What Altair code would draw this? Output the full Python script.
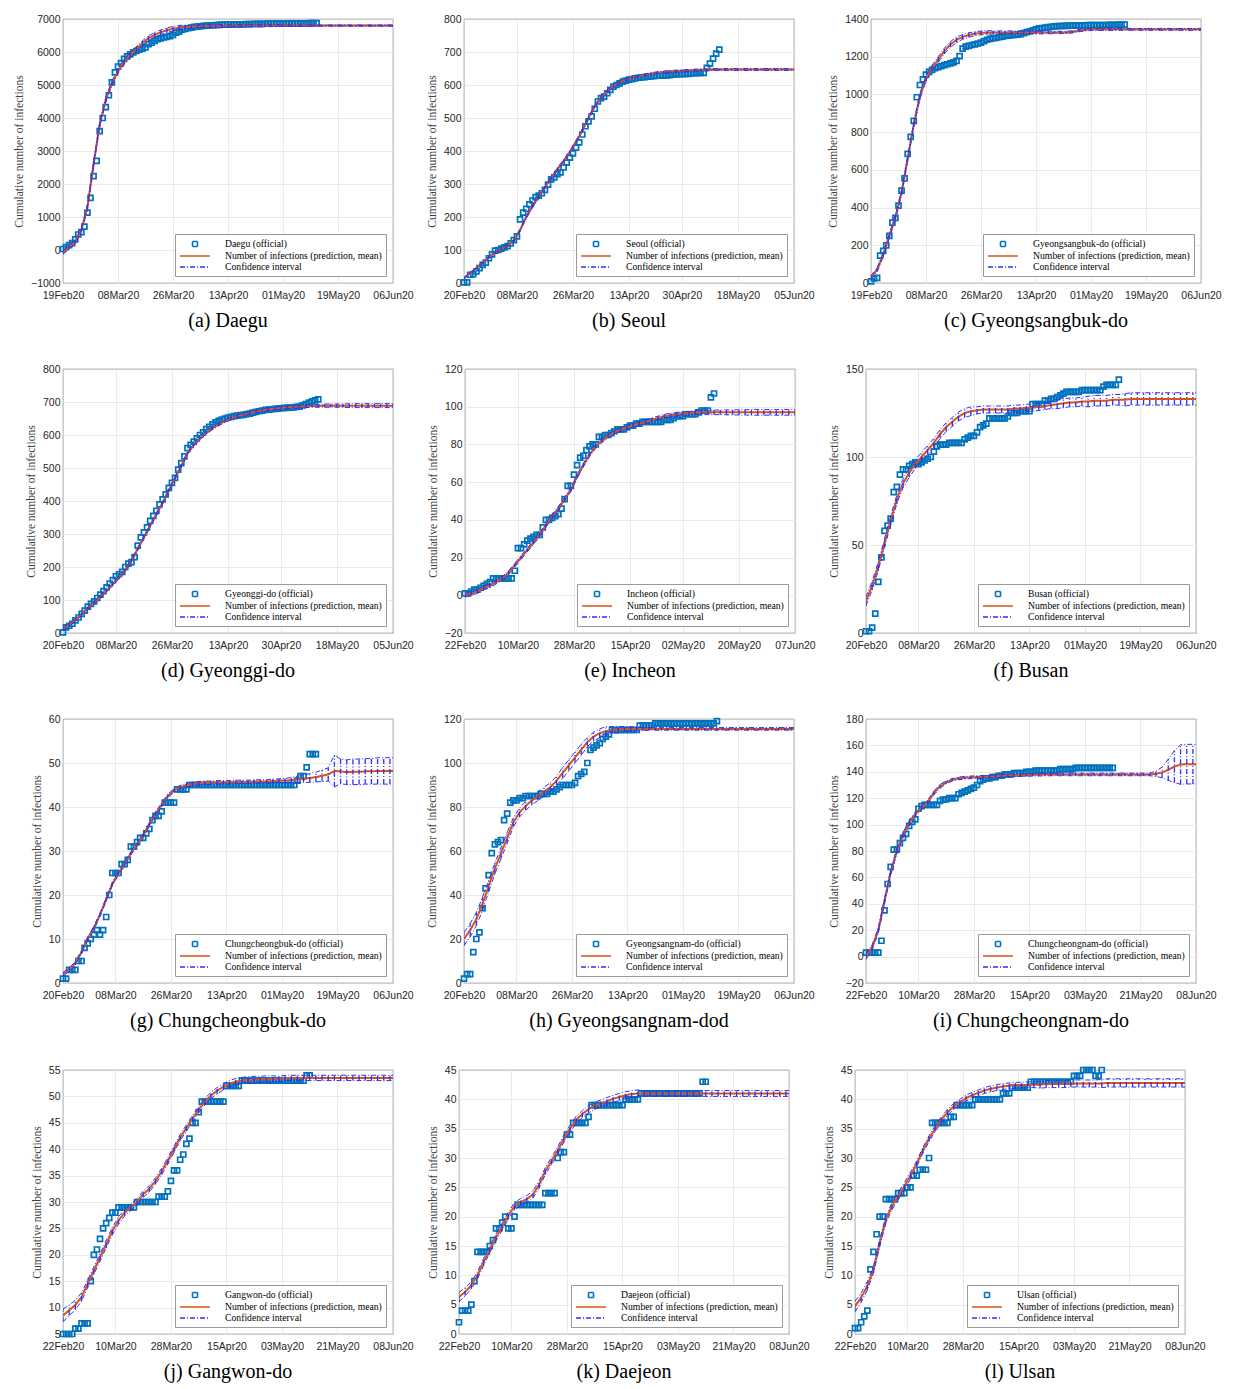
import altair as alt
import pandas as pd

# ------------------------------------------------------------------ data
PRED_LABEL = "Number of infections (prediction, mean)"
CI_LABEL = "Confidence interval"

# x tick labels (dates)
ticks_a = ["2020-02-19", "2020-03-08", "2020-03-26", "2020-04-13", "2020-05-01", "2020-05-19", "2020-06-06"]
ticks_b = ["2020-02-20", "2020-03-08", "2020-03-26", "2020-04-13", "2020-04-30", "2020-05-18", "2020-06-05"]
ticks_e = ["2020-02-22", "2020-03-10", "2020-03-28", "2020-04-15", "2020-05-02", "2020-05-20", "2020-06-07"]
ticks_f = ["2020-02-20", "2020-03-08", "2020-03-26", "2020-04-13", "2020-05-01", "2020-05-19", "2020-06-06"]
ticks_i = ["2020-02-22", "2020-03-10", "2020-03-28", "2020-04-15", "2020-05-03", "2020-05-21", "2020-06-08"]

# y tick labels
yt_a = [-1000, 0, 1000, 2000, 3000, 4000, 5000, 6000, 7000]
yt_b = [0, 100, 200, 300, 400, 500, 600, 700, 800]
yt_c = [0, 200, 400, 600, 800, 1000, 1200, 1400]
yt_e = [-20, 0, 20, 40, 60, 80, 100, 120]
yt_f = [0, 50, 100, 150]
yt_g = [0, 10, 20, 30, 40, 50, 60]
yt_h = [0, 20, 40, 60, 80, 100, 120]
yt_i = [-20, 0, 20, 40, 60, 80, 100, 120, 140, 160, 180]
yt_j = [5, 10, 15, 20, 25, 30, 35, 40, 45, 50, 55]
yt_k = [0, 5, 10, 15, 20, 25, 30, 35, 40, 45]

# official daily data, predictions (every 2 days), CI half-widths (every 2 days)
daegu_off = [30, 90, 150, 210, 320, 470, 540, 710, 1130, 1580,
             2240, 2700, 3600, 4000, 4330, 4690, 5080, 5380, 5560, 5660,
             5790, 5870, 5930, 5990, 6030, 6070, 6100, 6140, 6240, 6280,
             6340, 6390, 6410, 6440, 6460, 6480, 6520, 6590, 6620, 6680,
             6700, 6720, 6735, 6760, 6770, 6780, 6790, 6800, 6807, 6810,
             6816, 6825, 6830, 6832, 6834, 6835, 6836, 6838, 6839, 6840,
             6842, 6845, 6849, 6852, 6852, 6855, 6856, 6857, 6858, 6859,
             6860, 6861, 6861, 6862, 6864, 6865, 6865, 6866, 6868, 6870,
             6871, 6872, 6873, 6874]
daegu_pred = [-80, 80, 250, 600, 1300, 2600, 3800, 4550, 5050, 5420,
              5700, 5910, 6090, 6270, 6420, 6520, 6600, 6660, 6705, 6735,
              6755, 6768, 6776, 6782, 6786, 6789, 6791, 6793, 6794, 6795,
              6796, 6797, 6798, 6798, 6799, 6799, 6800, 6800, 6800, 6800,
              6800, 6800, 6800, 6800, 6800, 6800, 6800, 6800, 6800, 6800,
              6800, 6800, 6800, 6800, 6800]
daegu_ci = [50, 50, 60, 60, 70, 70, 70, 70, 70, 70,
            70, 70, 70, 70, 70, 70, 70, 70, 70, 70,
            60, 50, 40, 40, 40, 40, 40, 30, 30, 30,
            30, 30, 30, 30, 30, 30, 20, 20, 20, 20,
            20, 20, 20, 20, 20, 20, 20, 20, 20, 20,
            20, 20, 20, 20, 20]

seoul_off = [2, 2, 25, 27, 35, 45, 55, 62, 75, 87,
             98, 100, 104, 108, 112, 120, 130, 141, 193, 213,
             225, 238, 250, 260, 265, 272, 282, 298, 314, 320,
             330, 335, 350, 365, 380, 393, 410, 426, 450, 475,
             490, 505, 528, 550, 560, 565, 575, 585, 595, 600,
             605, 610, 613, 616, 618, 620, 622, 623, 624, 625,
             626, 627, 628, 628, 629, 629, 630, 631, 632, 633,
             633, 634, 634, 635, 636, 636, 637, 637, 652, 665,
             680, 695, 707]
seoul_pred = [15, 30, 45, 62, 78, 92, 103, 113, 128, 160,
              200, 232, 262, 290, 318, 345, 370, 397, 428, 462,
              500, 535, 562, 582, 597, 608, 616, 622, 627, 631,
              634, 637, 639, 641, 642, 643, 644, 645, 646, 646,
              647, 647, 647, 647, 647, 647, 647, 647, 647, 647,
              647, 647, 647, 647]
seoul_ci = [2, 2, 2, 2, 3, 3, 3, 3, 3, 3,
            4, 4, 4, 4, 4, 4, 4, 4, 4, 4,
            4, 4, 4, 4, 3, 3, 3, 3, 3, 3,
            3, 3, 3, 3, 3, 3, 3, 3, 3, 3,
            3, 3, 3, 3, 3, 3, 3, 3, 3, 3,
            3, 3, 3, 3]

gbuk_off = [9, 25, 27, 145, 170, 200, 250, 320, 345, 410,
            490, 555, 685, 775, 860, 985, 1050, 1080, 1105, 1120,
            1130, 1140, 1145, 1150, 1155, 1160, 1165, 1170, 1178, 1203,
            1243, 1254, 1257, 1262, 1265, 1270, 1275, 1283, 1290, 1295,
            1298, 1300, 1304, 1307, 1310, 1312, 1314, 1316, 1317, 1320,
            1325, 1330, 1335, 1340, 1345, 1350, 1352, 1355, 1357, 1359,
            1361, 1362, 1363, 1364, 1364, 1365, 1365, 1365, 1366, 1366,
            1366, 1367, 1367, 1367, 1368, 1368, 1368, 1368, 1369, 1369,
            1369, 1370, 1370, 1370]
gbuk_pred = [30, 70, 150, 250, 350, 480, 660, 840, 990, 1085,
             1140, 1185, 1230, 1265, 1290, 1305, 1315, 1322, 1326, 1328,
             1329, 1329, 1329, 1329, 1329, 1329, 1329, 1329, 1329, 1329,
             1329, 1329, 1329, 1332, 1338, 1342, 1345, 1345, 1345, 1345,
             1345, 1345, 1345, 1345, 1345, 1345, 1345, 1345, 1345, 1345,
             1345, 1345, 1345, 1345, 1345]
gbuk_ci = [10, 10, 10, 12, 12, 12, 12, 12, 15, 15,
           15, 15, 15, 15, 15, 12, 12, 10, 10, 10,
           8, 8, 8, 8, 8, 8, 8, 8, 8, 8,
           6, 6, 6, 6, 6, 6, 6, 6, 6, 6,
           5, 5, 5, 5, 5, 5, 5, 5, 5, 5,
           5, 5, 5, 5, 5]

ggi_off = [2, 17, 22, 28, 38, 47, 58, 68, 80, 88,
           96, 106, 116, 127, 138, 150, 160, 172, 178, 185,
           200, 210, 215, 230, 265, 290, 305, 320, 340, 355,
           370, 390, 405, 420, 440, 455, 470, 495, 515, 535,
           560, 570, 580, 590, 600, 608, 618, 625, 632, 638,
           643, 647, 650, 653, 655, 657, 659, 660, 661, 663,
           665, 668, 670, 672, 674, 676, 677, 678, 679, 680,
           681, 682, 682, 683, 684, 685, 686, 690, 694, 698,
           702, 705, 708]
ggi_pred = [12, 25, 40, 57, 75, 92, 110, 128, 148, 168,
            190, 220, 255, 290, 325, 360, 395, 432, 470, 507,
            545, 570, 590, 607, 620, 632, 642, 650, 657, 662,
            667, 671, 675, 678, 680, 682, 684, 685, 686, 687,
            688, 688, 689, 689, 689, 689, 689, 689, 689, 689,
            689, 689, 689, 689]
ggi_ci = [4, 4, 4, 4, 4, 4, 4, 4, 4, 4,
          4, 4, 4, 4, 4, 4, 4, 4, 4, 4,
          4, 4, 4, 4, 4, 4, 4, 4, 4, 4,
          4, 4, 4, 4, 4, 4, 4, 4, 4, 4,
          4, 4, 5, 5, 5, 5, 6, 6, 6, 6,
          6, 6, 6, 6]

inc_off = [1, 1, 2, 3, 3, 4, 5, 6, 7, 9,
           9, 9, 9, 9, 9, 9, 13, 25, 25, 27,
           29, 30, 31, 32, 32, 36, 40, 40, 41, 42,
           43, 46, 51, 58, 58, 64, 69, 73, 74, 77,
           79, 80, 80, 84, 84, 85, 85, 86, 87, 88,
           88, 88, 89, 90, 90, 91, 91, 92, 92, 92,
           92, 92, 92, 92, 93, 93, 93, 94, 95, 95,
           95, 96, 96, 96, 96, 97, 98, 98, 98, 105,
           107]
inc_pred = [0, 1, 2, 4, 5, 7, 9, 12, 16, 20,
            24, 28, 32, 37, 42, 46, 51, 56, 63, 69,
            74.5, 79, 82, 84.5, 86.5, 88, 89, 90, 91, 92,
            93, 94, 95, 95.5, 96, 96.5, 96.5, 97, 97, 97,
            97, 97, 97, 97, 97, 97, 97, 97, 97, 97,
            97, 97, 97, 97]
inc_ci = [1, 1, 1, 1, 1, 1, 1, 1, 1, 1,
          1, 1, 1, 1, 1, 1, 1, 1, 1, 1,
          1, 1, 1, 1, 1, 1, 1, 1, 1, 1,
          1, 1, 1, 1, 1, 1, 1, 1, 1.2, 1.2,
          1.2, 1.2, 1.3, 1.3, 1.4, 1.4, 1.5, 1.5, 1.5, 1.5,
          1.5, 1.5, 1.5, 1.5]

busan_off = [1, 1, 3, 11, 29, 43, 58, 61, 65, 80,
             83, 90, 93, 93, 95, 96, 97, 96, 97, 98,
             99, 100, 103, 106, 107, 107, 107, 108, 108, 108,
             108, 108, 110, 111, 112, 112, 114, 117, 118, 119,
             122, 122, 122, 122, 122, 122, 123, 125, 125, 125,
             126, 126, 126, 126, 130, 130, 130, 130, 132, 132,
             133, 133, 134, 135, 136, 137, 137, 137, 137, 137,
             138, 138, 138, 138, 138, 138, 138, 140, 141, 141,
             141, 141, 144]
busan_pred = [18, 27, 38, 51, 64, 76, 85, 91, 96, 100,
              104, 108, 113, 117, 120, 123, 125, 126, 126.5, 127,
              127, 127, 127, 127, 127.5, 127.5, 128, 128, 128.5, 129,
              129.5, 130, 130.5, 131, 131, 131.5, 131.5, 132, 132, 132,
              132.5, 132.5, 132.5, 133, 133, 133, 133, 133, 133, 133,
              133, 133, 133, 133, 133]
busan_ci = [2.5, 2.5, 2.5, 2.5, 2.5, 2.5, 2.5, 2.5, 2.5, 2.5,
            2.5, 2.5, 2.5, 2.5, 2.5, 2.5, 2.5, 2.5, 2, 2,
            2, 2, 2, 2, 2, 2, 2, 2, 2, 2,
            2, 2.5, 2.5, 2.5, 2.5, 2.5, 3, 3, 3, 3,
            3, 3, 3.5, 3.5, 3.5, 3.5, 3.5, 3.5, 3.5, 3.5,
            3.5, 3.5, 3.5, 3.5, 3.5]

cbuk_off = [1, 1, 3, 3, 3, 5, 5, 8, 9, 10,
            11, 12, 11, 12, 15, 20, 25, 25, 25, 27,
            27, 28, 31, 31, 32, 33, 33, 34, 35, 37,
            38, 38, 39, 41, 41, 41, 41, 44, 44, 44,
            44, 45, 45, 45, 45, 45, 45, 45, 45, 45,
            45, 45, 45, 45, 45, 45, 45, 45, 45, 45,
            45, 45, 45, 45, 45, 45, 45, 45, 45, 45,
            45, 45, 45, 45, 45, 45, 46, 47, 47, 49,
            52, 52, 52]
cbuk_pred = [2, 3, 4.5, 7, 10, 12.5, 15.5, 19, 22.5, 25,
             27, 29.5, 31.5, 33.5, 36, 38.5, 40.5, 42.5, 43.8, 44.5,
             45, 45.2, 45.4, 45.5, 45.5, 45.6, 45.6, 45.6, 45.7, 45.7,
             45.7, 45.8, 45.8, 45.8, 45.9, 46, 46, 46.1, 46.3, 46.4,
             46.6, 46.8, 47.1, 47.4, 48.2, 48.1, 47.9, 48, 48, 48.1,
             48.1, 48.2, 48.2, 48.2, 48.2]
cbuk_ci = [0.4, 0.4, 0.4, 0.4, 0.4, 0.4, 0.4, 0.4, 0.4, 0.4,
           0.4, 0.4, 0.4, 0.4, 0.4, 0.4, 0.4, 0.4, 0.4, 0.4,
           0.4, 0.4, 0.4, 0.4, 0.4, 0.4, 0.4, 0.4, 0.4, 0.4,
           0.4, 0.4, 0.4, 0.4, 0.4, 0.4, 0.5, 0.6, 0.7, 0.8,
           1, 1.1, 1.3, 1.5, 3.6, 2.8, 2.8, 2.9, 2.9, 2.9,
           2.9, 3, 3, 3, 3]

gnam_off = [2, 4, 4, 14, 20, 23, 34, 43, 49, 59,
            63, 64, 65, 74, 77, 82, 83, 83, 84, 84,
            85, 85, 85, 85, 85, 86, 86, 86, 87, 87,
            88, 89, 90, 90, 90, 90, 91, 94, 95, 96,
            100, 106, 107, 108, 109, 111, 112, 113, 115, 115,
            115, 115, 115, 115, 115, 115, 115, 117, 117, 117,
            117, 117, 118, 118, 118, 118, 118, 118, 118, 118,
            118, 118, 118, 118, 118, 118, 118, 118, 118, 118,
            118, 118, 119]
gnam_pred = [20, 24, 29, 36, 44, 52, 59, 66, 73, 77.5,
             80.5, 83, 85, 87, 89, 92, 95.5, 99, 102.5, 106,
             109.5, 112, 113.5, 114.5, 115, 115.2, 115.5, 115.5, 115.5, 115.5,
             115.5, 115.5, 115.5, 115.5, 115.5, 115.5, 115.5, 115.5, 115.5, 115.5,
             115.5, 115.5, 115.5, 115.5, 115.5, 115.5, 115.5, 115.5, 115.5, 115.5,
             115.5, 115.5, 115.5, 115.5, 115.5]
gnam_ci = [3, 3, 3, 3, 2.5, 2.5, 2.5, 2.5, 2, 2,
           2, 2, 2, 2, 2, 2, 2.5, 2.5, 2.5, 2.5,
           2, 2, 2, 2, 1.5, 1.5, 1, 1, 0.8, 0.8,
           0.6, 0.6, 0.6, 0.6, 0.6, 0.6, 0.6, 0.6, 0.6, 0.6,
           0.6, 0.6, 0.6, 0.6, 0.6, 0.6, 0.6, 0.6, 0.6, 0.6,
           0.6, 0.6, 0.6, 0.6, 0.6]

cnam_off = [3, 3, 3, 3, 3, 12, 35, 55, 68, 81,
            81, 86, 90, 93, 99, 102, 104, 112, 114, 115,
            115, 115, 115, 115, 118, 119, 119, 120, 120, 120,
            123, 124, 125, 126, 127, 128, 130, 133, 134, 135,
            135, 136, 136, 137, 137, 138, 138, 138, 139, 139,
            139, 139, 140, 140, 140, 141, 141, 141, 141, 141,
            141, 141, 141, 142, 142, 142, 142, 142, 143, 143,
            143, 143, 143, 143, 143, 143, 143, 143, 143, 143,
            143]
cnam_pred = [0, 7, 20, 42, 64, 80, 92, 101, 108, 113,
             117, 124, 129, 132, 134, 135, 135.5, 135.8, 136, 136.2,
             136.5, 136.7, 137, 137.2, 137.4, 137.5, 137.6, 137.7, 137.8, 137.9,
             138, 138, 138, 138, 138, 138, 138, 138, 138, 138,
             138, 138, 138, 138, 138, 138, 138, 138.5, 139.5, 141.5,
             144, 145.5, 145.8, 145.8, 145.8]
cnam_ci = [2, 2, 2, 2, 2, 2, 2, 2, 1.5, 1.5,
           1.5, 1.5, 1.5, 1, 1, 1, 1, 1, 1, 1,
           1, 1, 1, 1, 1, 1, 1, 1, 1, 1,
           1, 1, 1, 1, 1, 1, 1, 1, 1, 1,
           1, 1, 1, 1, 1, 1, 1, 2, 4, 8,
           12, 15, 15, 15, 15]

gw_off = [5, 5, 5, 5, 6, 6, 7, 7, 7, 15,
          20, 21, 23, 25, 26, 27, 28, 28, 29, 29,
          29, 29, 29, 29, 30, 30, 30, 30, 30, 30,
          30, 31, 31, 31, 32, 34, 36, 36, 38, 39,
          41, 42, 45, 45, 47, 49, 49, 49, 49, 49,
          49, 49, 49, 52, 52, 52, 52, 52, 53, 53,
          53, 53, 53, 53, 53, 53, 53, 53, 53, 53,
          53, 53, 53, 53, 53, 53, 53, 53, 53, 54,
          54]
gw_pred = [8.5, 9.5, 10.5, 12, 14.5, 17, 19.5, 22, 24.5, 26.5,
           28, 29, 30, 31.5, 32.5, 34, 35.8, 37.8, 40, 42.2,
           44, 45.8, 47.5, 49, 50.2, 51.1, 51.8, 52.4, 52.8, 53,
           53.1, 53.2, 53.2, 53.3, 53.3, 53.3, 53.5, 53.5, 53.5, 53.5,
           53.5, 53.5, 53.5, 53.5, 53.5, 53.5, 53.5, 53.5, 53.5, 53.5,
           53.5, 53.5, 53.5, 53.5, 53.5]
gw_ci = [1.2, 1, 0.9, 0.8, 0.7, 0.7, 0.7, 0.7, 0.7, 0.7,
         0.6, 0.6, 0.6, 0.6, 0.6, 0.6, 0.6, 0.6, 0.6, 0.6,
         0.6, 0.6, 0.6, 0.6, 0.6, 0.6, 0.6, 0.6, 0.6, 0.6,
         0.6, 0.6, 0.6, 0.6, 0.6, 0.5, 0.5, 0.5, 0.5, 0.5,
         0.5, 0.5, 0.5, 0.5, 0.5, 0.5, 0.5, 0.5, 0.5, 0.5,
         0.5, 0.5, 0.5, 0.5, 0.5]

dj_off = [2, 4, 4, 4, 5, 9, 14, 14, 14, 14,
          15, 16, 18, 18, 19, 20, 18, 18, 20, 22,
          22, 22, 22, 22, 22, 22, 22, 22, 24, 24,
          24, 24, 30, 31, 31, 34, 34, 36, 36, 36,
          36, 36, 37, 39, 39, 39, 39, 39, 39, 39,
          39, 39, 39, 39, 40, 40, 40, 40, 40, 41,
          41, 41, 41, 41, 41, 41, 41, 41, 41, 41,
          41, 41, 41, 41, 41, 41, 41, 41, 41, 43,
          43]
dj_pred = [6.3, 7.2, 8.3, 10, 12.3, 14.5, 16.5, 18.3, 20.2, 21.8,
           22.5, 23, 23.8, 25.5, 27.8, 29.5, 31.3, 33.3, 35, 36.5,
           37.5, 38.3, 38.9, 39.3, 39.7, 40.1, 40.4, 40.7, 40.9, 41,
           41, 41, 41, 41, 41, 41, 41, 41, 41, 41,
           41, 41, 41, 41, 41, 41, 41, 41, 41, 41,
           41, 41, 41, 41, 41]
dj_ci = [0.8, 0.7, 0.6, 0.6, 0.6, 0.6, 0.6, 0.6, 0.6, 0.6,
         0.6, 0.6, 0.6, 0.6, 0.6, 0.6, 0.6, 0.6, 0.6, 0.6,
         0.6, 0.6, 0.6, 0.6, 0.6, 0.6, 0.6, 0.6, 0.6, 0.6,
         0.5, 0.5, 0.5, 0.5, 0.5, 0.5, 0.5, 0.5, 0.5, 0.5,
         0.5, 0.5, 0.5, 0.5, 0.5, 0.5, 0.5, 0.5, 0.5, 0.5,
         0.5, 0.5, 0.5, 0.5, 0.5]

us_off = [1, 1, 2, 3, 4, 11, 14, 17, 20, 20,
          23, 23, 23, 23, 24, 24, 24, 25, 25, 27,
          27, 28, 28, 28, 30, 36, 36, 36, 36, 36,
          36, 37, 37, 39, 39, 39, 39, 39, 39, 40,
          40, 40, 40, 40, 40, 40, 40, 40, 41, 41,
          41, 42, 42, 42, 42, 42, 42, 43, 43, 43,
          43, 43, 43, 43, 43, 43, 43, 43, 43, 43,
          43, 44, 44, 44, 45, 45, 45, 45, 44, 44,
          45]
us_pred = [4.7, 6.2, 8.2, 11, 15.5, 19.5, 21.8, 23.5, 25.2, 27,
           29, 31.3, 33.3, 35, 36.5, 37.8, 38.8, 39.5, 40.2, 40.7,
           41.1, 41.5, 41.8, 42, 42.2, 42.3, 42.4, 42.4, 42.5, 42.5,
           42.5, 42.6, 42.6, 42.6, 42.6, 42.7, 42.7, 42.7, 42.7, 42.7,
           42.7, 42.8, 42.8, 42.8, 42.8, 42.8, 42.8, 42.8, 42.8, 42.8,
           42.8, 42.8, 42.8, 42.8, 42.8]
us_ci = [0.9, 0.8, 0.7, 0.6, 0.6, 0.6, 0.6, 0.6, 0.6, 0.6,
         0.5, 0.5, 0.5, 0.5, 0.5, 0.5, 0.5, 0.5, 0.5, 0.5,
         0.5, 0.5, 0.5, 0.5, 0.5, 0.5, 0.5, 0.5, 0.5, 0.5,
         0.6, 0.6, 0.6, 0.6, 0.6, 0.6, 0.6, 0.6, 0.6, 0.6,
         0.7, 0.7, 0.7, 0.7, 0.7, 0.7, 0.7, 0.7, 0.7, 0.7,
         0.7, 0.7, 0.7, 0.7, 0.7]

panels = [
    ("(a)", "Daegu", "Daegu  (official)", "2020-02-19", "2020-06-06", [-1000, 7000], yt_a, ticks_a, daegu_off, daegu_pred, daegu_ci),
    ("(b)", "Seoul", "Seoul (official)", "2020-02-20", "2020-06-05", [0, 800], yt_b, ticks_b, seoul_off, seoul_pred, seoul_ci),
    ("(c)", "Gyeongsangbuk-do", "Gyeongsangbuk-do (official)", "2020-02-19", "2020-06-06", [0, 1400], yt_c, ticks_a, gbuk_off, gbuk_pred, gbuk_ci),
    ("(d)", "Gyeonggi-do", "Gyeonggi-do (official)", "2020-02-20", "2020-06-05", [0, 800], yt_b, ticks_b, ggi_off, ggi_pred, ggi_ci),
    ("(e)", "Incheon", "Incheon (official)", "2020-02-22", "2020-06-07", [-20, 120], yt_e, ticks_e, inc_off, inc_pred, inc_ci),
    ("(f)", "Busan", "Busan (official)", "2020-02-20", "2020-06-06", [0, 150], yt_f, ticks_f, busan_off, busan_pred, busan_ci),
    ("(g)", "Chungcheongbuk-do", "Chungcheongbuk-do (official)", "2020-02-20", "2020-06-06", [0, 60], yt_g, ticks_f, cbuk_off, cbuk_pred, cbuk_ci),
    ("(h)", "Gyeongsangnam-dod", "Gyeongsangnam-do (official)", "2020-02-20", "2020-06-06", [0, 120], yt_h, ticks_f, gnam_off, gnam_pred, gnam_ci),
    ("(i)", "Chungcheongnam-do", "Chungcheongnam-do (official)", "2020-02-22", "2020-06-08", [-20, 180], yt_i, ticks_i, cnam_off, cnam_pred, cnam_ci),
    ("(j)", "Gangwon-do", "Gangwon-do (official)", "2020-02-22", "2020-06-08", [5, 55], yt_j, ticks_i, gw_off, gw_pred, gw_ci),
    ("(k)", "Daejeon", "Daejeon (official)", "2020-02-22", "2020-06-08", [0, 45], yt_k, ticks_i, dj_off, dj_pred, dj_ci),
    ("(l)", "Ulsan", "Ulsan (official)", "2020-02-22", "2020-06-08", [0, 45], yt_k, ticks_i, us_off, us_pred, us_ci),
]

# ------------------------------------------------------------------ style
OFF_COLOR = "#0072BD"
PRED_COLOR = "#D95319"
CI_COLOR = "#2f2ff5"
SQ = "M-0.5,-0.5H0.5V0.5H-0.5Z"
LN = "M-3,0H3"
W, H = 330, 264


def dtm(s):
    y, m, d = s.split("-")
    return alt.DateTime(year=int(y), month=int(m), date=int(d))


def iso(ts):
    return ts.strftime("%Y-%m-%dT00:00:00")


def make_panel(tag, name, off_label, start, end, ydom, yticks, xticks, off, pred, ci):
    st = pd.Timestamp(start)
    off_df = pd.DataFrame({
        "date": [iso(st + pd.Timedelta(days=i)) for i in range(len(off))],
        "value": off,
        "series": off_label,
    })
    n = min(len(pred), len(ci))
    dates = [iso(st + pd.Timedelta(days=2 * i)) for i in range(n)]
    lo = [pred[i] - ci[i] for i in range(n)]
    hi = [pred[i] + ci[i] for i in range(n)]
    pred_df = pd.DataFrame({"date": dates, "value": pred[:n], "series": PRED_LABEL})
    ci_df = pd.DataFrame({"date": dates, "value": lo, "hi": hi, "series": CI_LABEL})
    bnd_df = pd.DataFrame({
        "date": dates + dates,
        "value": lo + hi,
        "bound": ["lo"] * n + ["hi"] * n,
        "series": CI_LABEL,
    })

    dom = [off_label, PRED_LABEL, CI_LABEL]
    leg = alt.Legend(
        title=None, orient="bottom-right", offset=7, padding=4,
        strokeColor="#9a9a9a", fillColor="white", cornerRadius=0,
        labelFont="Liberation Serif", labelFontSize=9.7, labelColor="black",
        labelLimit=400, symbolSize=100, symbolStrokeWidth=1.6,
        symbolOffset=10, labelOffset=24, rowPadding=0,
        symbolFillColor="transparent",
    )
    color = alt.Color("series:N", scale=alt.Scale(domain=dom, range=[OFF_COLOR, PRED_COLOR, CI_COLOR]), legend=leg)
    shape = alt.Shape("series:N", scale=alt.Scale(domain=dom, range=[SQ, LN, LN]), legend=leg)
    dash = alt.StrokeDash("series:N", scale=alt.Scale(domain=dom, range=[[1, 0], [1, 0], [5, 2, 1, 2]]), legend=leg)

    x = alt.X("date:T",
              scale=alt.Scale(domain=[dtm(start), dtm(end)]),
              axis=alt.Axis(values=[dtm(t) for t in xticks], format="%d%b%y", title=None,
                            labelOverlap=False, labelFlush=False, labelPadding=7))
    yax = alt.Axis(values=yticks, format="d", title="Cumulative number of infections",
                   labelPadding=3, titlePadding=6, labelFlush=False)
    y = alt.Y("value:Q", scale=alt.Scale(domain=ydom, nice=False, zero=False), axis=yax)

    pts = alt.Chart(off_df).mark_point(filled=False, size=100, strokeWidth=1.7, opacity=1).encode(
        x=x, y=y, color=color, shape=shape)
    line = alt.Chart(pred_df).mark_line(strokeWidth=2, clip=True).encode(
        x=x, y=y, color=color, strokeDash=dash)
    bars = alt.Chart(ci_df).mark_rule(strokeWidth=1.3, clip=True).encode(
        x=x, y=y, y2="hi:Q", color=color, strokeDash=dash)
    bnds = alt.Chart(bnd_df).mark_line(strokeWidth=1, clip=True).encode(
        x=x, y=y, detail="bound:N", color=color, strokeDash=dash)

    return alt.layer(pts, line, bars, bnds).properties(
        width=W, height=H,
        title=alt.TitleParams(text=f"{tag}  {name}", orient="bottom", anchor="middle",
                              font="Liberation Serif", fontSize=20, fontWeight="normal",
                              color="black", offset=10),
    )


charts = [make_panel(*p) for p in panels]
rows = [
    alt.hconcat(*charts[i:i + 3], spacing=12).resolve_scale(
        color="independent", shape="independent", strokeDash="independent"
    ).resolve_legend(color="independent", shape="independent", strokeDash="independent")
    for i in range(0, 12, 3)
]

chart = alt.vconcat(*rows, spacing=32).resolve_scale(
    color="independent", shape="independent", strokeDash="independent"
).resolve_legend(
    color="independent", shape="independent", strokeDash="independent"
).configure_view(
    stroke="#262626", strokeWidth=0.8
).configure_axis(
    gridColor="#e4e4e4", gridWidth=0.8, domain=False, ticks=False,
    labelFont="Liberation Sans", labelFontSize=10.5, labelColor="#262626",
    titleFont="Liberation Serif", titleFontSize=11.5, titleFontWeight="normal",
    titleColor="#404040",
).properties(background="white")

chart.save("out.html", embed_options={"renderer": "svg", "actions": False})
